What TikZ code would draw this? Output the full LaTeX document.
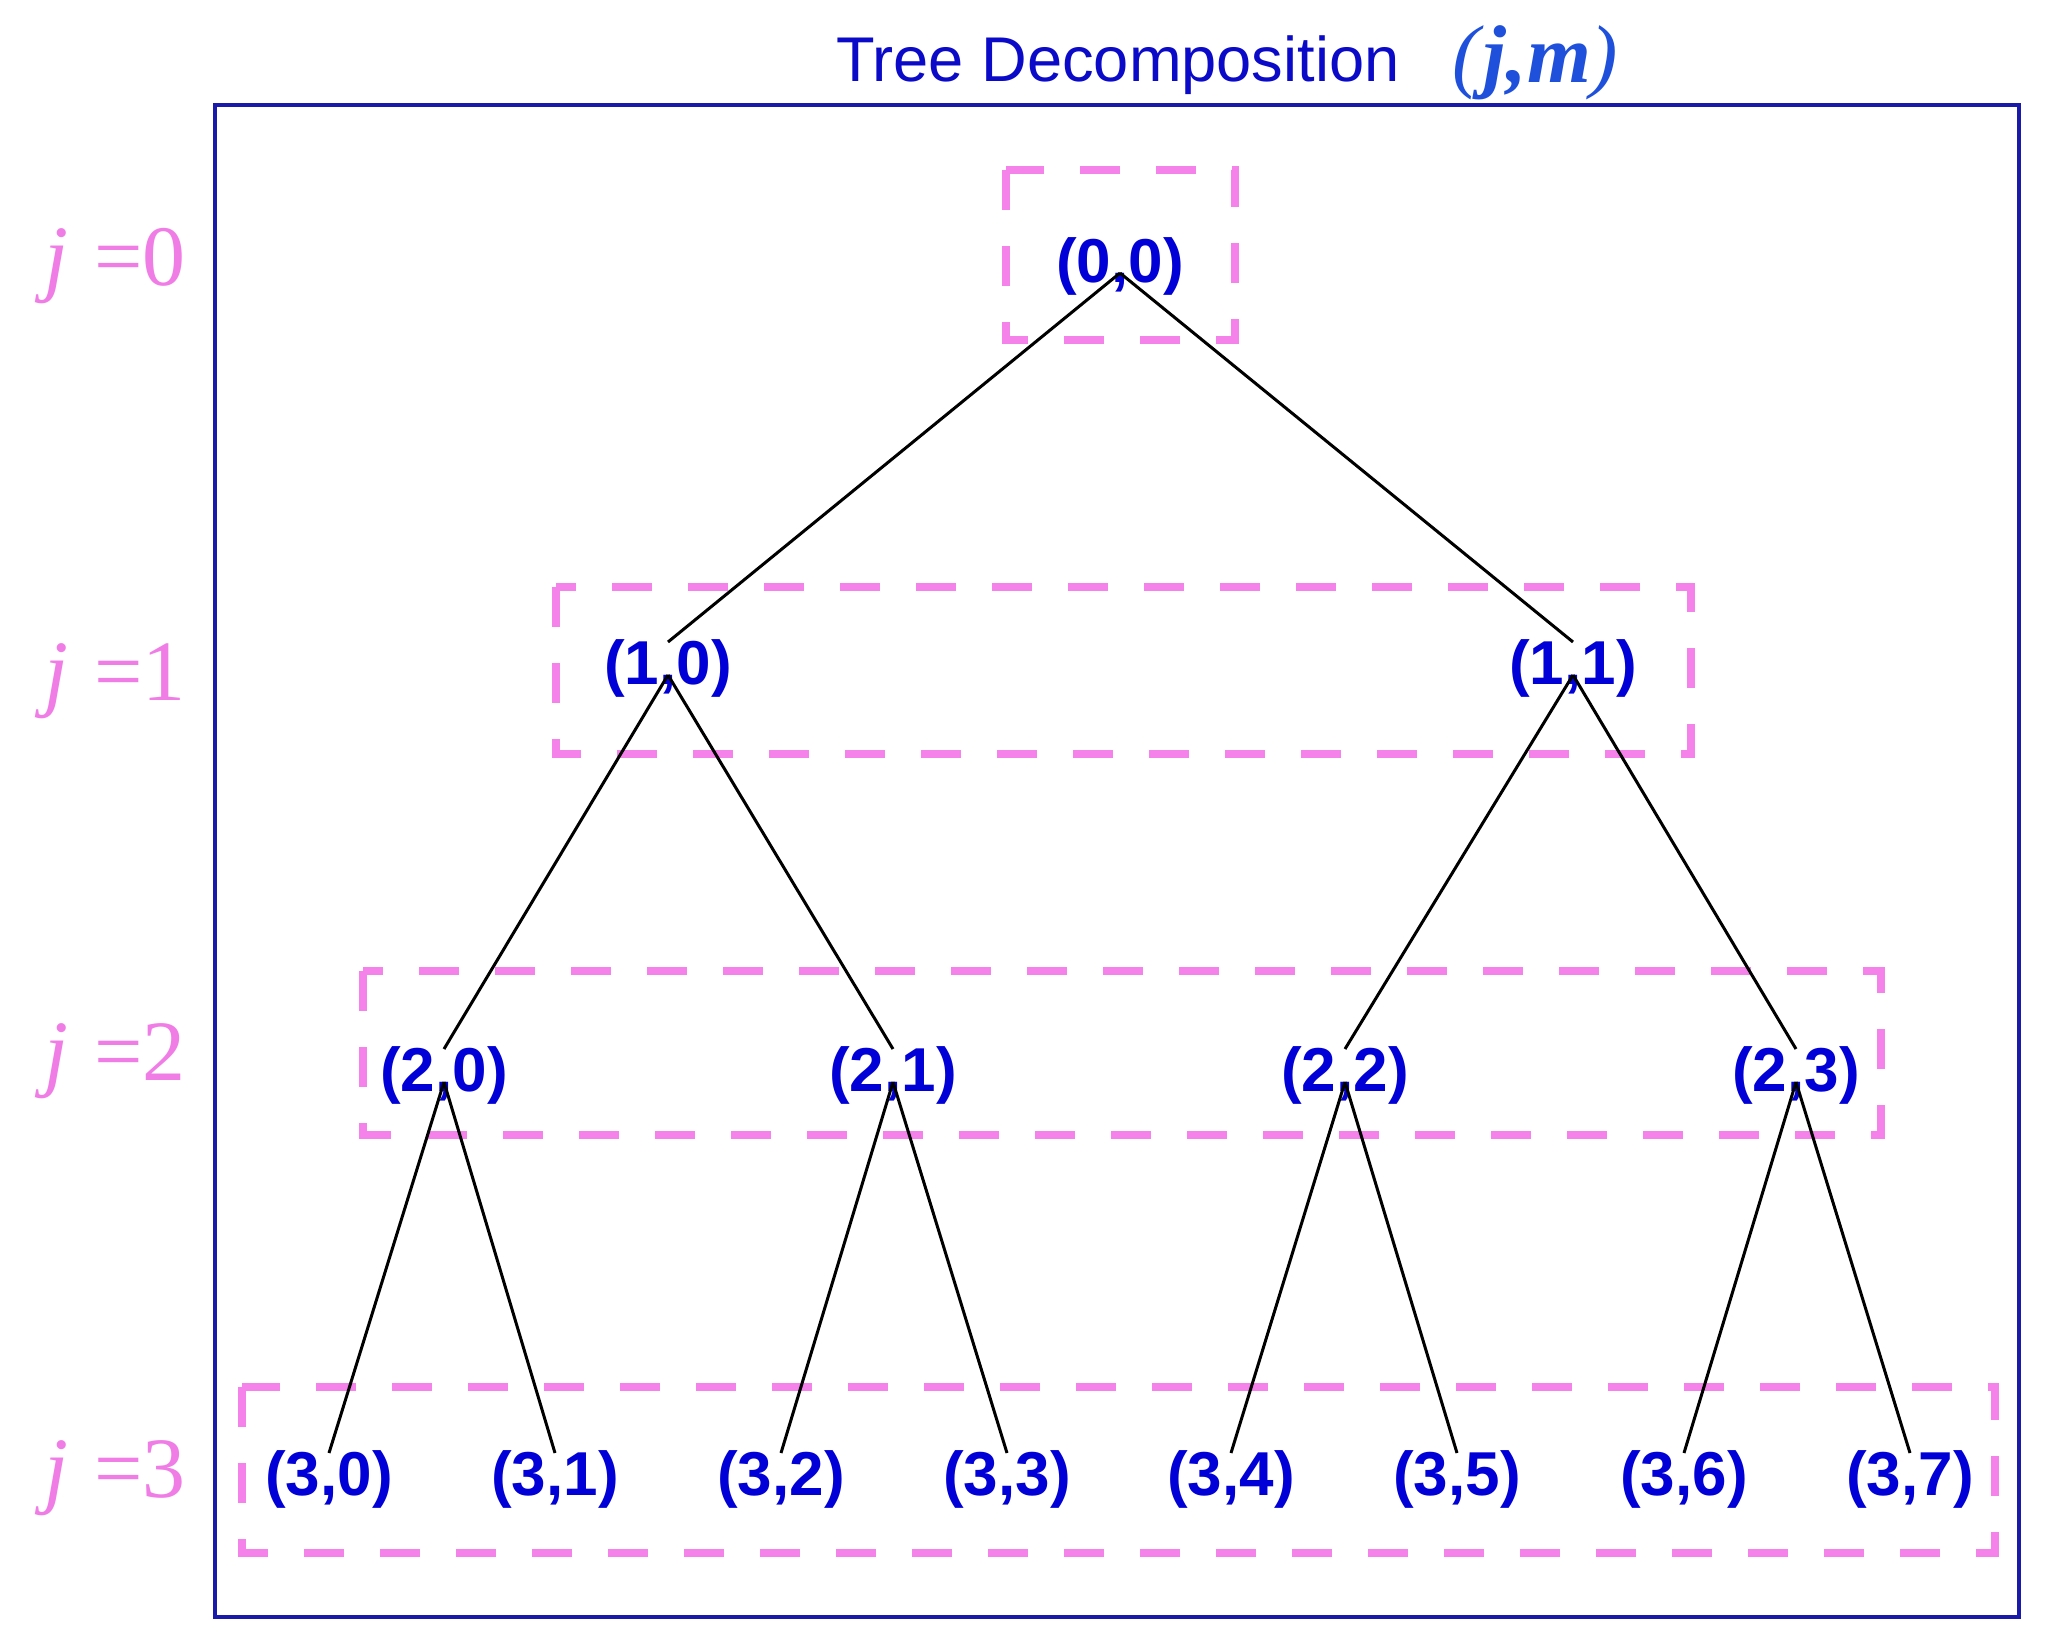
\documentclass[tikz,border=0pt]{standalone}
\usepackage{fontspec}
\setmainfont{Liberation Serif}
\setsansfont{Liberation Sans}
\definecolor{nodeblue}{RGB}{0,0,215}
\definecolor{titleblue}{RGB}{10,10,200}
\definecolor{jmblue}{RGB}{30,80,220}
\definecolor{lvlpink}{RGB}{240,125,230}
\definecolor{boxpink}{RGB}{245,130,235}
\definecolor{framec}{RGB}{25,25,170}
\begin{document}
\begin{tikzpicture}[x=0.5pt,y=-0.5pt,
  lbl/.style={font=\sffamily\bfseries\fontsize{31}{36}\selectfont, text=nodeblue, inner sep=0pt},
  lvlbox/.style={draw=boxpink, line width=4pt, dash pattern=on 20pt off 18pt},
  edge/.style={draw=black, line width=1.5pt},
  lvl/.style={font=\fontsize{43}{48}\selectfont, text=lvlpink, anchor=base east, inner sep=0pt}]
\useasboundingbox (0,0) rectangle (2047,1638);
\fill[white] (0,0) rectangle (2047,1638);
\draw[framec, line width=2pt] (215,105) rectangle (2019,1617);

% title
\node[anchor=base west, inner sep=0pt, font=\sffamily\fontsize{31.6}{36}\selectfont, text=titleblue] (title) at (836,81) {Tree Decomposition};
\node[anchor=base west, inner sep=0pt, font=\fontsize{41}{48}\selectfont, text=jmblue] (jm) at (1452,83) {\textit{(}\textbf{\textit{j,m}}\textit{)}};

% level labels
\node[lvl] (l0) at (186,285) {\textit{j}\hspace{0.3em}=0};
\node[lvl] (l1) at (186,700) {\textit{j}\hspace{0.3em}=1};
\node[lvl] (l2) at (186,1080) {\textit{j}\hspace{0.3em}=2};
\node[lvl] (l3) at (186,1497) {\textit{j}\hspace{0.3em}=3};

% level boxes
\draw[lvlbox] (1006,170) rectangle (1235,340);
\draw[lvlbox] (556,587) rectangle (1691,754);
\draw[lvlbox] (363,971) rectangle (1881,1135);
\draw[lvlbox] (242,1387) rectangle (1995,1553);

% nodes
\node[lbl] (n00) at (1120,266) {(0,0)};
\node[lbl] (n10) at (668,668) {(1,0)};
\node[lbl] (n11) at (1573,668) {(1,1)};
\node[lbl] (n20) at (444,1075) {(2,0)};
\node[lbl] (n21) at (893,1075) {(2,1)};
\node[lbl] (n22) at (1345,1075) {(2,2)};
\node[lbl] (n23) at (1796,1075) {(2,3)};
\node[lbl] (n30) at (329,1479) {(3,0)};
\node[lbl] (n31) at (555,1479) {(3,1)};
\node[lbl] (n32) at (781,1479) {(3,2)};
\node[lbl] (n33) at (1007,1479) {(3,3)};
\node[lbl] (n34) at (1231,1479) {(3,4)};
\node[lbl] (n35) at (1457,1479) {(3,5)};
\node[lbl] (n36) at (1684,1479) {(3,6)};
\node[lbl] (n37) at (1910,1479) {(3,7)};

% edges
\foreach \p/\c in {n00/n10,n00/n11,n10/n20,n10/n21,n11/n22,n11/n23,
  n20/n30,n20/n31,n21/n32,n21/n33,n22/n34,n22/n35,n23/n36,n23/n37}
  \draw[edge] ([yshift=-3.5pt]\p.center) -- ([yshift=13pt]\c.center);
\end{tikzpicture}
\end{document}
